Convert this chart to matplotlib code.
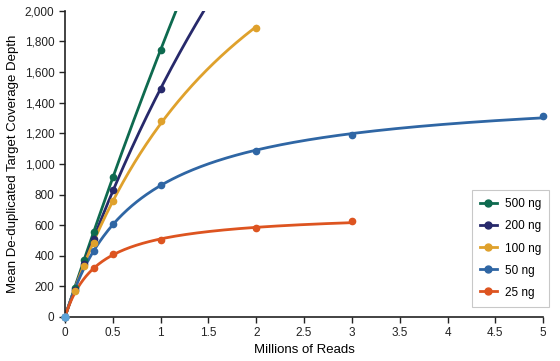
import numpy as np
import matplotlib
matplotlib.use('Agg')
from matplotlib import pyplot as plt
from matplotlib.ticker import FuncFormatter, MultipleLocator

plt.rcParams['font.family'] = ['Liberation Sans', 'DejaVu Sans']

labels = ['500 ng', '200 ng', '100 ng', '50 ng', '25 ng']
colors = ['#0e6a4f', '#27296b', '#dfa12c', '#2f66a4', '#dd5420']

x_500 = [0, 0.1, 0.2, 0.3, 0.5, 1]
y_500 = [0, 190, 370, 555, 912, 1745]
x_200 = [0, 0.1, 0.2, 0.3, 0.5, 1]
y_200 = [0, 175, 345, 510, 830, 1490]
x_100 = [0, 0.1, 0.2, 0.3, 0.5, 1, 2]
y_100 = [0, 170, 330, 480, 760, 1281, 1889]
x_50 = [0, 0.3, 0.5, 1, 2, 3, 5]
y_50 = [0, 430, 605, 862, 1085, 1190, 1310]
x_25 = [0, 0.3, 0.5, 1, 2, 3]
y_25 = [0, 320, 410, 500, 580, 625]

xs = [x_500, x_200, x_100, x_50, x_25]
ys = [y_500, y_200, y_100, y_50, y_25]
line_end = [1.6, 1.6, 2, 5, 3]


def fit_sat(x, y):
    # y = a*x/(b+x), grid search on b, least squares for a
    x = np.asarray(x, float)
    y = np.asarray(y, float)
    best = None
    for b in np.linspace(0.05, 20, 4000):
        g = x / (b + x)
        a = (g @ y) / (g @ g)
        err = np.sum((a * g - y) ** 2)
        if best is None or err < best[0]:
            best = (err, a, b)
    return best[1], best[2]


fig = plt.figure(figsize=(5.6, 3.61), dpi=100)
ax = fig.add_axes([0.116, 0.122, 0.854, 0.848])

handles = [None] * 5
for i in reversed(range(5)):
    a, b = fit_sat(xs[i], ys[i])
    xx = np.linspace(0, line_end[i], 300)
    ax.plot(xx, a * xx / (b + xx), color=colors[i], lw=2.0, zorder=2 + i * 0.1)
    ax.plot(xs[i], ys[i], 'o', color=colors[i], ms=4.5, zorder=3 + i * 0.1,
            clip_on=False)
    handles[i], = ax.plot([], [], '-o', color=colors[i], lw=2.0, ms=5)

ax.plot(x_50[0], y_50[0], 'o', color='#5ba3d9', ms=5, zorder=5, clip_on=False)

ax.set_xlim(0, 5)
ax.set_ylim(0, 2000)
ax.xaxis.set_major_locator(MultipleLocator(0.5))
ax.yaxis.set_major_locator(MultipleLocator(200))
ax.xaxis.set_major_formatter(FuncFormatter(lambda v, p: f'{v:g}'))
ax.yaxis.set_major_formatter(FuncFormatter(lambda v, p: f'{v:,.0f}'))
ax.tick_params(direction='out', length=4, width=1, labelsize=8.5, colors='#222222')
for s in ['top', 'right']:
    ax.spines[s].set_visible(False)
for s in ['left', 'bottom']:
    ax.spines[s].set_linewidth(1.2)
    ax.spines[s].set_color('#222222')

ax.set_xlabel('Millions of Reads', fontsize=9.5, labelpad=3)
ax.set_ylabel('Mean De-duplicated Target Coverage Depth', fontsize=9.5, labelpad=4)

leg = ax.legend(handles, labels, loc='lower right', bbox_to_anchor=(1.013, 0.033),
                fontsize=8.5, frameon=True, fancybox=False, handlelength=1.4,
                handletextpad=0.7, labelspacing=0.85, borderpad=0.7,
                borderaxespad=0)
leg.get_frame().set_edgecolor('#bbbbbb')
leg.get_frame().set_linewidth(0.8)

fig.savefig('out.png', dpi=100)
